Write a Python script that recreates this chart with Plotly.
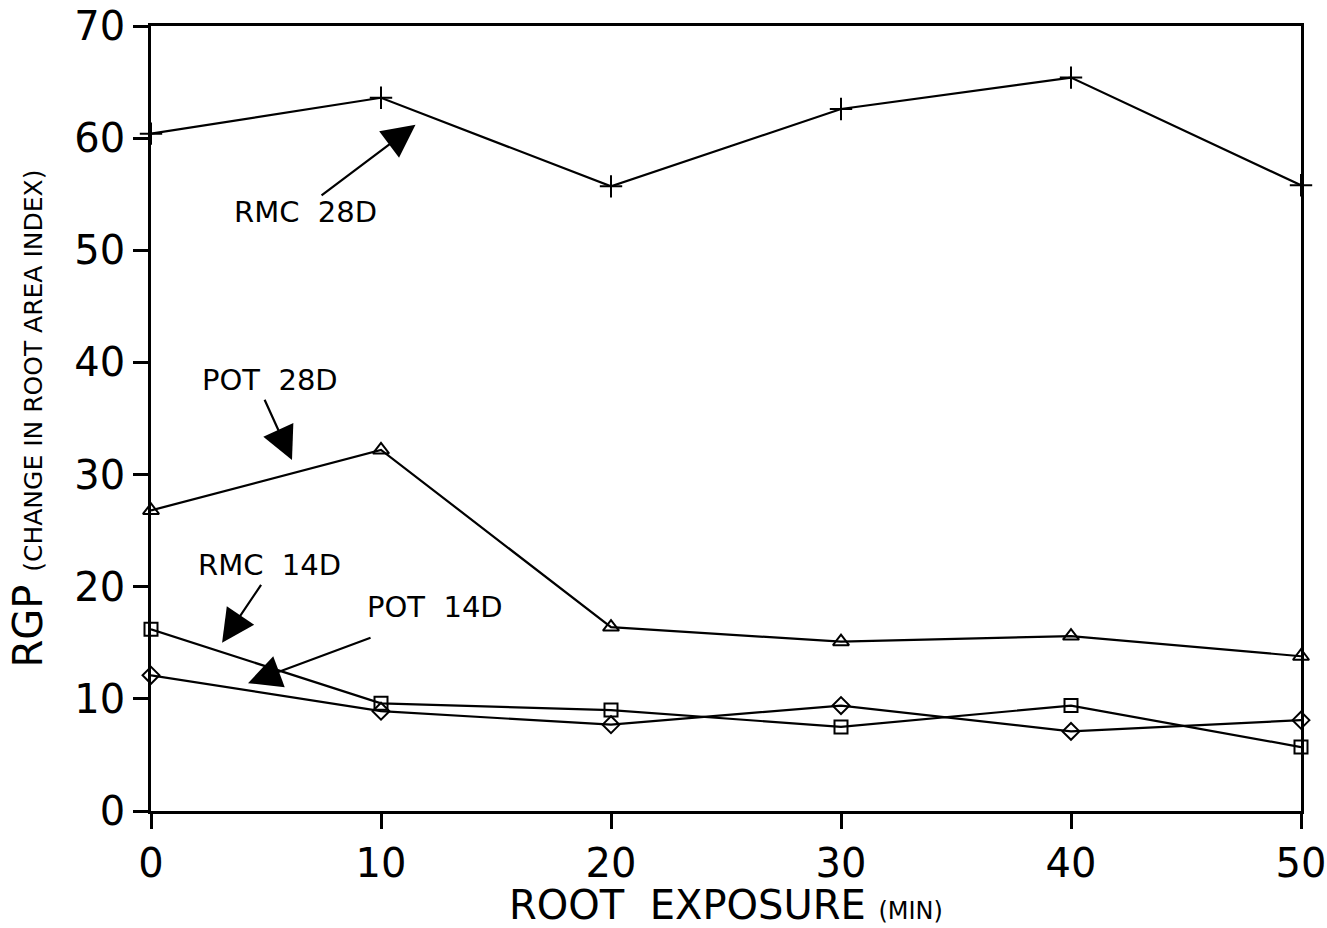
import plotly.graph_objects as go

x_vals = [0, 10, 20, 30, 40, 50]
rmc_28d = [60.4, 63.6, 55.7, 62.6, 65.4, 55.8]
pot_28d = [26.8, 32.2, 16.4, 15.1, 15.6, 13.8]
rmc_14d = [16.2, 9.6, 9.0, 7.5, 9.4, 5.7]
pot_14d = [12.1, 8.9, 7.7, 9.4, 7.1, 8.1]

series = [
    ("RMC 28D", rmc_28d, "cross-thin-open", 16),
    ("POT 28D", pot_28d, "triangle-up-open", 14),
    ("RMC 14D", rmc_14d, "square-open", 13),
    ("POT 14D", pot_14d, "diamond-open", 13),
]

# labels: (text, text_x, text_y, head_x, head_y, tail_x, tail_y)
labels = [
    ("RMC  28D", 6.7, 53.4, 11.5, 61.2, 7.35, 54.8),
    ("POT  28D", 5.17, 38.4, 6.13, 31.3, 4.91, 36.8),
    ("RMC  14D", 5.17, 21.9, 3.09, 15.0, 4.83, 20.3),
    ("POT  14D", 12.35, 18.2, 4.22, 11.4, 9.61, 15.5),
]

fig = go.Figure()
for name, vals, sym, sz in series:
    fig.add_trace(go.Scatter(
        x=x_vals, y=vals, mode="lines+markers", name=name,
        line=dict(color="black", width=2.2),
        marker=dict(symbol=sym, size=sz, color="black", line=dict(width=2, color="black")),
        cliponaxis=False,
    ))

font_family = "DejaVu Sans, sans-serif"
for txt, tx, ty, hx, hy, ax, ay in labels:
    fig.add_annotation(x=tx, y=ty, text=txt, showarrow=False,
                       font=dict(size=29, color="black", family=font_family))
    fig.add_annotation(x=hx, y=hy, ax=ax, ay=ay, axref="x", ayref="y",
                       text="", showarrow=True, arrowhead=2, arrowsize=3.0,
                       arrowwidth=2.2, arrowcolor="black", standoff=0)

fig.update_layout(
    width=1327, height=928,
    margin=dict(l=151, r=26, t=26, b=117),
    paper_bgcolor="white", plot_bgcolor="white",
    showlegend=False,
    font=dict(family=font_family, color="black"),
)
fig.update_xaxes(
    range=[0, 50], tickvals=[0, 10, 20, 30, 40, 50],
    showline=True, linecolor="black", linewidth=2.5, mirror=True,
    ticks="outside", ticklen=15, tickwidth=2.5, tickcolor="black",
    showgrid=False, zeroline=False, automargin=False,
    tickfont=dict(size=40),
    title=dict(text="ROOT  EXPOSURE <span style='font-size:24px'>(MIN)</span>",
               font=dict(size=40), standoff=16),
)
fig.update_yaxes(
    range=[0, 70], tickvals=[0, 10, 20, 30, 40, 50, 60, 70],
    showline=True, linecolor="black", linewidth=2.5, mirror=True,
    ticks="outside", ticklen=15, tickwidth=2.5, tickcolor="black",
    showgrid=False, zeroline=False, automargin=False,
    tickfont=dict(size=40),
    title=dict(text="RGP <span style='font-size:25px'>(CHANGE IN ROOT AREA INDEX)</span>",
               font=dict(size=40), standoff=20),
)

fig.write_html("out.html")
